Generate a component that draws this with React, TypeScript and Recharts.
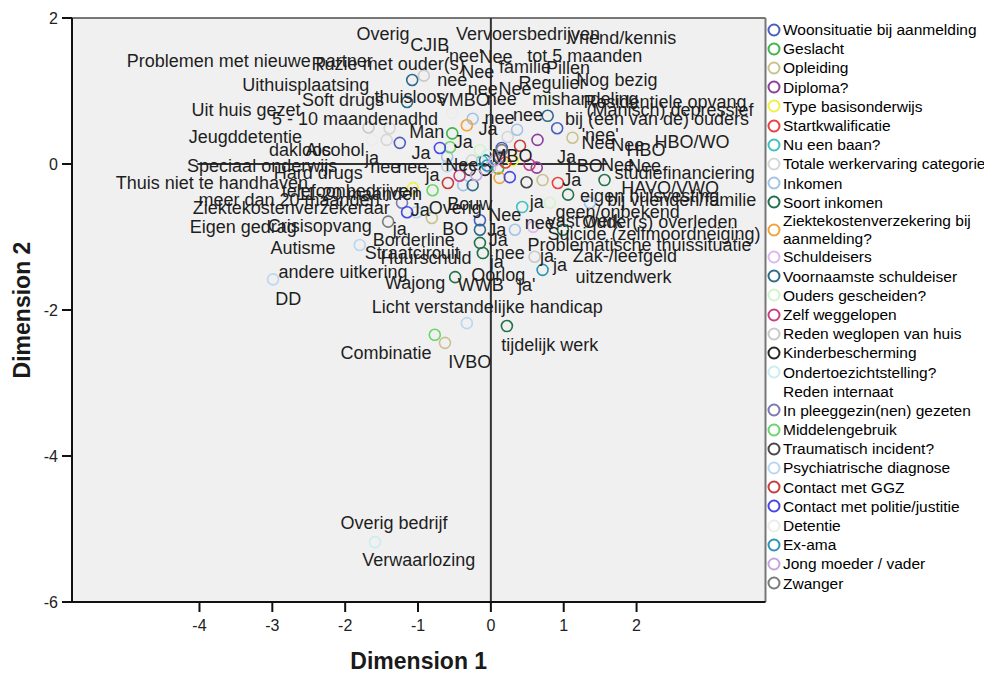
import { CartesianGrid, ReferenceLine, Scatter, ScatterChart, XAxis, YAxis } from "recharts";

// MCA-objectplot (SPSS-stijl): categoriepunten per variabele + losse labels.

type Pt = [number, number];

const xTicks = [-4, -3, -2, -1, 0, 1, 2];
const yTicks = [-6, -4, -2, 0, 2];

const woonsituatie: Pt[] = [[-1.25, 0.29], [0.91, 0.49], [0.15, 0.22], [-0.15, -0.77]];
const geslacht: Pt[] = [[-0.53, 0.42], [0.1, -0.06]];
const opleiding: Pt[] = [[1.12, 0.36], [0.71, -0.22], [-0.81, -0.74], [-0.63, -2.45]];
const diploma: Pt[] = [[0.64, 0.33], [0.63, -0.05]];
const typeBasis: Pt[] = [[-1.07, -0.33], [0.3, 0.05]];
const startkwal: Pt[] = [[0.92, -0.26], [0.2, 0.02]];
const nuBaan: Pt[] = [[0.43, -0.59], [-0.12, 0.04]];
const werkervaring: Pt[] = [[-1.39, 0.49], [-1.43, 0.33], [0.23, 0.37], [-0.26, 0.05]];
const inkomen: Pt[] = [[-0.25, 0.62], [0.36, 0.47], [-0.38, -0.29], [1.36, -0.53], [0.33, -0.9], [-0.6, 0.1]];
const soortInkomen: Pt[] = [[1.06, -0.42], [1.56, -0.22], [0.99, -0.9], [-0.15, -1.08], [-0.11, -1.22], [-0.49, -1.55], [0.22, -2.22]];
const ziektekosten: Pt[] = [[-0.33, 0.53], [0.12, -0.19]];
const schuldeisers: Pt[] = [[0.58, -0.86], [-0.01, -0.05]];
const voornaamste: Pt[] = [[-1.08, 1.15], [-1.15, 0.85], [0.78, 0.66], [-0.25, -0.29], [-0.15, -0.9], [-0.08, 0.05]];
const oudersGescheiden: Pt[] = [[0.77, 0.88], [-0.15, 0.19], [0.81, -0.53]];
const zelfWeggelopen: Pt[] = [[0.53, -0.01], [-0.43, -0.16]];
const redenWeglopen: Pt[] = [[-0.92, 1.21], [0.6, -1.27], [-1.68, 0.5]];
const kinderbescherming: Pt[] = [[-0.08, -0.08], [0.12, 0.08]];
const ondertoezicht: Pt[] = [[-1.59, -5.18], [-0.05, 0.12]];
const redenInternaat: Pt[] = [];
const pleeggezin: Pt[] = [[-1.22, -0.53], [0.12, 0.1]];
const middelen: Pt[] = [[-0.8, -0.36], [-0.77, -2.34], [-0.56, 0.23]];
const traumatisch: Pt[] = [[0.49, -0.25], [-0.29, -0.08]];
const psychiatrisch: Pt[] = [[-2.99, -1.58], [-1.8, -1.11], [-0.33, -2.18], [-1.02, -0.66], [-0.6, -0.03]];
const ggz: Pt[] = [[-0.59, -0.26], [0.4, 0.25]];
const politie: Pt[] = [[-0.7, 0.22], [-1.15, -0.66], [0.26, -0.18]];
const detentie: Pt[] = [[-1.63, 0.33], [-0.53, 0.7]];
const exAma: Pt[] = [[0.71, -1.45], [-0.05, -0.02]];
const jongOuder: Pt[] = [[0.05, 0.05], [-0.2, -0.15]];
const zwanger: Pt[] = [[-1.41, -0.79], [0.15, 0.19]];

const SERIES: { name: string; color: string; data: Pt[] }[] = [
  { name: "Woonsituatie bij aanmelding", color: "#4b5fbf", data: woonsituatie },
  { name: "Geslacht", color: "#3db54a", data: geslacht },
  { name: "Opleiding", color: "#c8c28c", data: opleiding },
  { name: "Diploma?", color: "#8e3e9e", data: diploma },
  { name: "Type basisonderwijs", color: "#f2f044", data: typeBasis },
  { name: "Startkwalificatie", color: "#e8413f", data: startkwal },
  { name: "Nu een baan?", color: "#3fc1c0", data: nuBaan },
  { name: "Totale werkervaring categorie", color: "#d6d6d6", data: werkervaring },
  { name: "Inkomen", color: "#a3c3e6", data: inkomen },
  { name: "Soort inkomen", color: "#23704a", data: soortInkomen },
  { name: "Ziektekostenverzekering bij\naanmelding?", color: "#f3a23a", data: ziektekosten },
  { name: "Schuldeisers", color: "#dcb8f0", data: schuldeisers },
  { name: "Voornaamste schuldeiser", color: "#2d6b88", data: voornaamste },
  { name: "Ouders gescheiden?", color: "#d3f3c9", data: oudersGescheiden },
  { name: "Zelf weggelopen", color: "#c9407f", data: zelfWeggelopen },
  { name: "Reden weglopen van huis", color: "#c9c9c9", data: redenWeglopen },
  { name: "Kinderbescherming", color: "#262626", data: kinderbescherming },
  { name: "Ondertoezichtstelling?", color: "#c9eef0", data: ondertoezicht },
  { name: "Reden internaat", color: "none", data: redenInternaat },
  { name: "In pleeggezin(nen) gezeten", color: "#7b78b5", data: pleeggezin },
  { name: "Middelengebruik", color: "#69d56b", data: middelen },
  { name: "Traumatisch incident?", color: "#474747", data: traumatisch },
  { name: "Psychiatrische diagnose", color: "#b9d7f1", data: psychiatrisch },
  { name: "Contact met GGZ", color: "#c53d3d", data: ggz },
  { name: "Contact met politie/justitie", color: "#4747e8", data: politie },
  { name: "Detentie", color: "#ececec", data: detentie },
  { name: "Ex-ama", color: "#2a95b5", data: exAma },
  { name: "Jong moeder / vader", color: "#c6a4dd", data: jongOuder },
  { name: "Zwanger", color: "#7b7b7b", data: zwanger },
];

// categorielabels (middelpunt van de tekst)
const labels: [string, number, number][] = [
  ["Overig", -1.48, 1.79], ["CJIB", -0.84, 1.63], ["Vervoersbedrijven", 0.51, 1.79],
  ["Vriend/kennis", 1.8, 1.73], ["Problemen met nieuwe partner", -3.31, 1.42],
  ["Ruzie met ouder(s)", -1.41, 1.38], ["'nee'", -0.37, 1.49], ["Nee", 0.07, 1.47],
  ["tot 5 maanden", 1.29, 1.48], ["familie", 0.47, 1.33], ["Pillen", 1.06, 1.32],
  ["Nee", -0.18, 1.26], ["nee", -0.53, 1.15], ["Regulier", 0.84, 1.12], ["Nog bezig", 1.73, 1.15],
  ["nee", -0.11, 1.03], ["Nee", 0.33, 1.03], ["Uithuisplaatsing", -2.54, 1.08],
  ["Soft drugs", -2.03, 0.88], ["thuisloos", -1.11, 0.92], ["VMBO", -0.38, 0.88], ["nee", 0.15, 0.9],
  ["mishandeling", 1.3, 0.9], ["Residentiele opvang", 2.39, 0.86], ["(Manisch) depressief", 2.46, 0.74],
  ["bij (een van de) ouders", 2.28, 0.62], ["nee", 0.51, 0.67], ["nee", 0.12, 0.63], ["Ja", -0.04, 0.49],
  ["adhd", -1.0, 0.62], ["5 - 10 maanden", -2.14, 0.62], ["Uit huis gezet", -3.36, 0.74],
  ["Man", -0.88, 0.44], ["Ja", -0.38, 0.3], ["Jeugddetentie", -3.37, 0.37], ["Alcohol", -2.14, 0.19],
  ["dakloos", -2.62, 0.19], ["Ja", -0.96, 0.15], ["ja", -1.63, 0.08], ["Ja", 1.04, 0.1],
  ["'nee'", 1.5, 0.4], ["Nee", 1.47, 0.29], ["Nee", 1.88, 0.26], ["HBO/WO", 2.76, 0.3], ["HBO", 2.13, 0.19],
  ["Speciaal onderwijs", -3.14, -0.03], ["Hard drugs", -2.37, -0.12], ["nee", -1.45, -0.04],
  ["nee", -1.08, -0.04], ["Nee", -0.4, -0.01], ["MBO", 0.29, 0.12], ["LBO", 1.29, -0.03],
  ["Nee", 1.74, -0.01], ["Nee", 2.11, -0.03], ["Ja", 1.11, -0.22], ["studiefinanciering", 2.66, -0.12],
  ["HAVO/VWO", 2.46, -0.32], ["eigen huisvesting", 2.18, -0.44], ["bij vrienden/familie", 2.62, -0.49],
  ["geen/onbekend", 1.74, -0.66], ["vast werk", 1.29, -0.77], ["Ouder(s) overleden", 2.32, -0.79],
  ["nee", 0.67, -0.81], ["Suicide (zelfmoordneiging)", 2.24, -0.95],
  ["Problematische thuissituatie", 2.04, -1.11], ["Zak-/leefgeld", 1.84, -1.26], ["ja", 0.77, -1.25],
  ["ja", 0.95, -1.38], ["uitzendwerk", 1.82, -1.55], ["nee", 0.26, -1.21], ["ja", 0.08, -1.34],
  ["Oorlog", 0.1, -1.52], ["'ja'", 0.47, -1.66], ["WWB", -0.14, -1.66], ["Wajong", -1.04, -1.63],
  ["Licht verstandelijke handicap", -0.05, -1.96], ["tijdelijk werk", 0.81, -2.48],
  ["Combinatie", -1.44, -2.58], ["IVBO", -0.29, -2.71], ["Overig bedrijf", -1.33, -4.92],
  ["Verwaarlozing", -0.99, -5.42], ["DD", -2.78, -1.84], ["andere uitkering", -2.03, -1.48],
  ["Autisme", -2.58, -1.15], ["Borderline", -1.06, -1.04], ["Straatcircuit", -1.08, -1.21],
  ["Huurschuld", -0.89, -1.29], ["BO", -0.49, -0.88], ["ja", -1.25, -0.88], ["Crisisopvang", -2.35, -0.85],
  ["Eigen gedrag", -3.4, -0.86], ["Ziektekostenverzekeraar", -2.74, -0.6],
  ["meer dan 20 maanden", -2.77, -0.49], ["Thuis niet te handhaven", -3.83, -0.25],
  ["telefoonbedrijven", -1.93, -0.36], ["11-20 maanden", -1.8, -0.4], ["Ja", -0.97, -0.63],
  ["Overig", -0.49, -0.6], ["Bouw", -0.29, -0.55], ["Nee", 0.19, -0.7], ["ja", 0.63, -0.52],
  ["Ja", 0.08, -0.9], ["Ja", 0.1, -1.04], ["ja", -0.8, -0.15],
];

const FONT = "'Liberation Sans', Arial, sans-serif";
const labelData = labels.map(([text, x, y]) => ({ text, x, y }));

const ring = (color: string) => (p: any) =>
  <circle cx={p.cx} cy={p.cy} r={5.5} fill="none" stroke={color} strokeWidth={1.6} />;

const labelShape = (p: any) => (
  <text x={p.cx} y={p.cy} dy="0.35em" textAnchor="middle" fontSize={18} fontFamily={FONT} fill="#1e1e1e">
    {p.payload.text}
  </text>
);

function LegendBox() {
  return (
    <div style={{ position: "absolute", left: 759, top: 12, fontFamily: FONT, fontSize: 15.5, color: "#000" }}>
      {SERIES.map((s) => {
        const two = s.name.includes("\n");
        return (
          <div key={s.name} style={{ display: "flex", alignItems: "center", height: two ? 35.5 : 19.2 }}>
            <svg width={16} height={16} style={{ flex: "none" }}>
              {s.color !== "none" && <circle cx={7} cy={8} r={5.5} fill="none" stroke={s.color} strokeWidth={2} />}
            </svg>
            <span style={{ whiteSpace: "pre", lineHeight: two ? "17.5px" : "19.2px" }}>{s.name}</span>
          </div>
        );
      })}
    </div>
  );
}

export default function App() {
  return (
    <div style={{ position: "relative", width: 976, height: 667 }}>
      <ScatterChart width={976} height={667} margin={{ top: 10, right: 218.5, left: 0, bottom: 0 }}>
        <CartesianGrid fill="#f0f0f0" stroke="none" horizontal={false} vertical={false} />
        <XAxis
          type="number"
          dataKey="x"
          domain={[-5.75, 3.77]}
          ticks={xTicks}
          allowDataOverflow
          height={73}
          tickSize={10}
          tickMargin={8}
          axisLine={{ stroke: "#111", strokeWidth: 2 }}
          tickLine={{ stroke: "#111", strokeWidth: 2 }}
          tick={{ fontSize: 16, fontFamily: FONT, fill: "#222" }}
          label={{ value: "Dimension 1", position: "insideBottom", offset: 6, style: { fontSize: 23, fontWeight: 700, fontFamily: FONT, fill: "#1a1a1a" } }}
        />
        <YAxis
          type="number"
          dataKey="y"
          domain={[-6, 2]}
          ticks={yTicks}
          allowDataOverflow
          width={64}
          tickSize={10}
          tickMargin={4}
          axisLine={{ stroke: "#111", strokeWidth: 2 }}
          tickLine={{ stroke: "#111", strokeWidth: 2 }}
          tick={{ fontSize: 16, fontFamily: FONT, fill: "#222" }}
          label={{ value: "Dimension 2", angle: -90, position: "insideLeft", offset: 14, style: { textAnchor: "middle", fontSize: 23, fontWeight: 700, fontFamily: FONT, fill: "#1a1a1a" } }}
        />
        <ReferenceLine y={2} stroke="#777" strokeWidth={2} />
        <ReferenceLine x={3.77} stroke="#777" strokeWidth={2} />
        <ReferenceLine x={0} stroke="#333" strokeWidth={2} />
        <ReferenceLine segment={[{ x: -4.03, y: 0 }, { x: 1.6, y: 0 }]} stroke="#333" strokeWidth={2} />
        {SERIES.filter((s) => s.data.length > 0).map((s) => (
          <Scatter
            key={s.name}
            name={s.name}
            data={s.data.map(([x, y]) => ({ x, y }))}
            shape={ring(s.color)}
            isAnimationActive={false}
          />
        ))}
        <Scatter name="labels" data={labelData} shape={labelShape} isAnimationActive={false} />
      </ScatterChart>
      <LegendBox />
    </div>
  );
}
